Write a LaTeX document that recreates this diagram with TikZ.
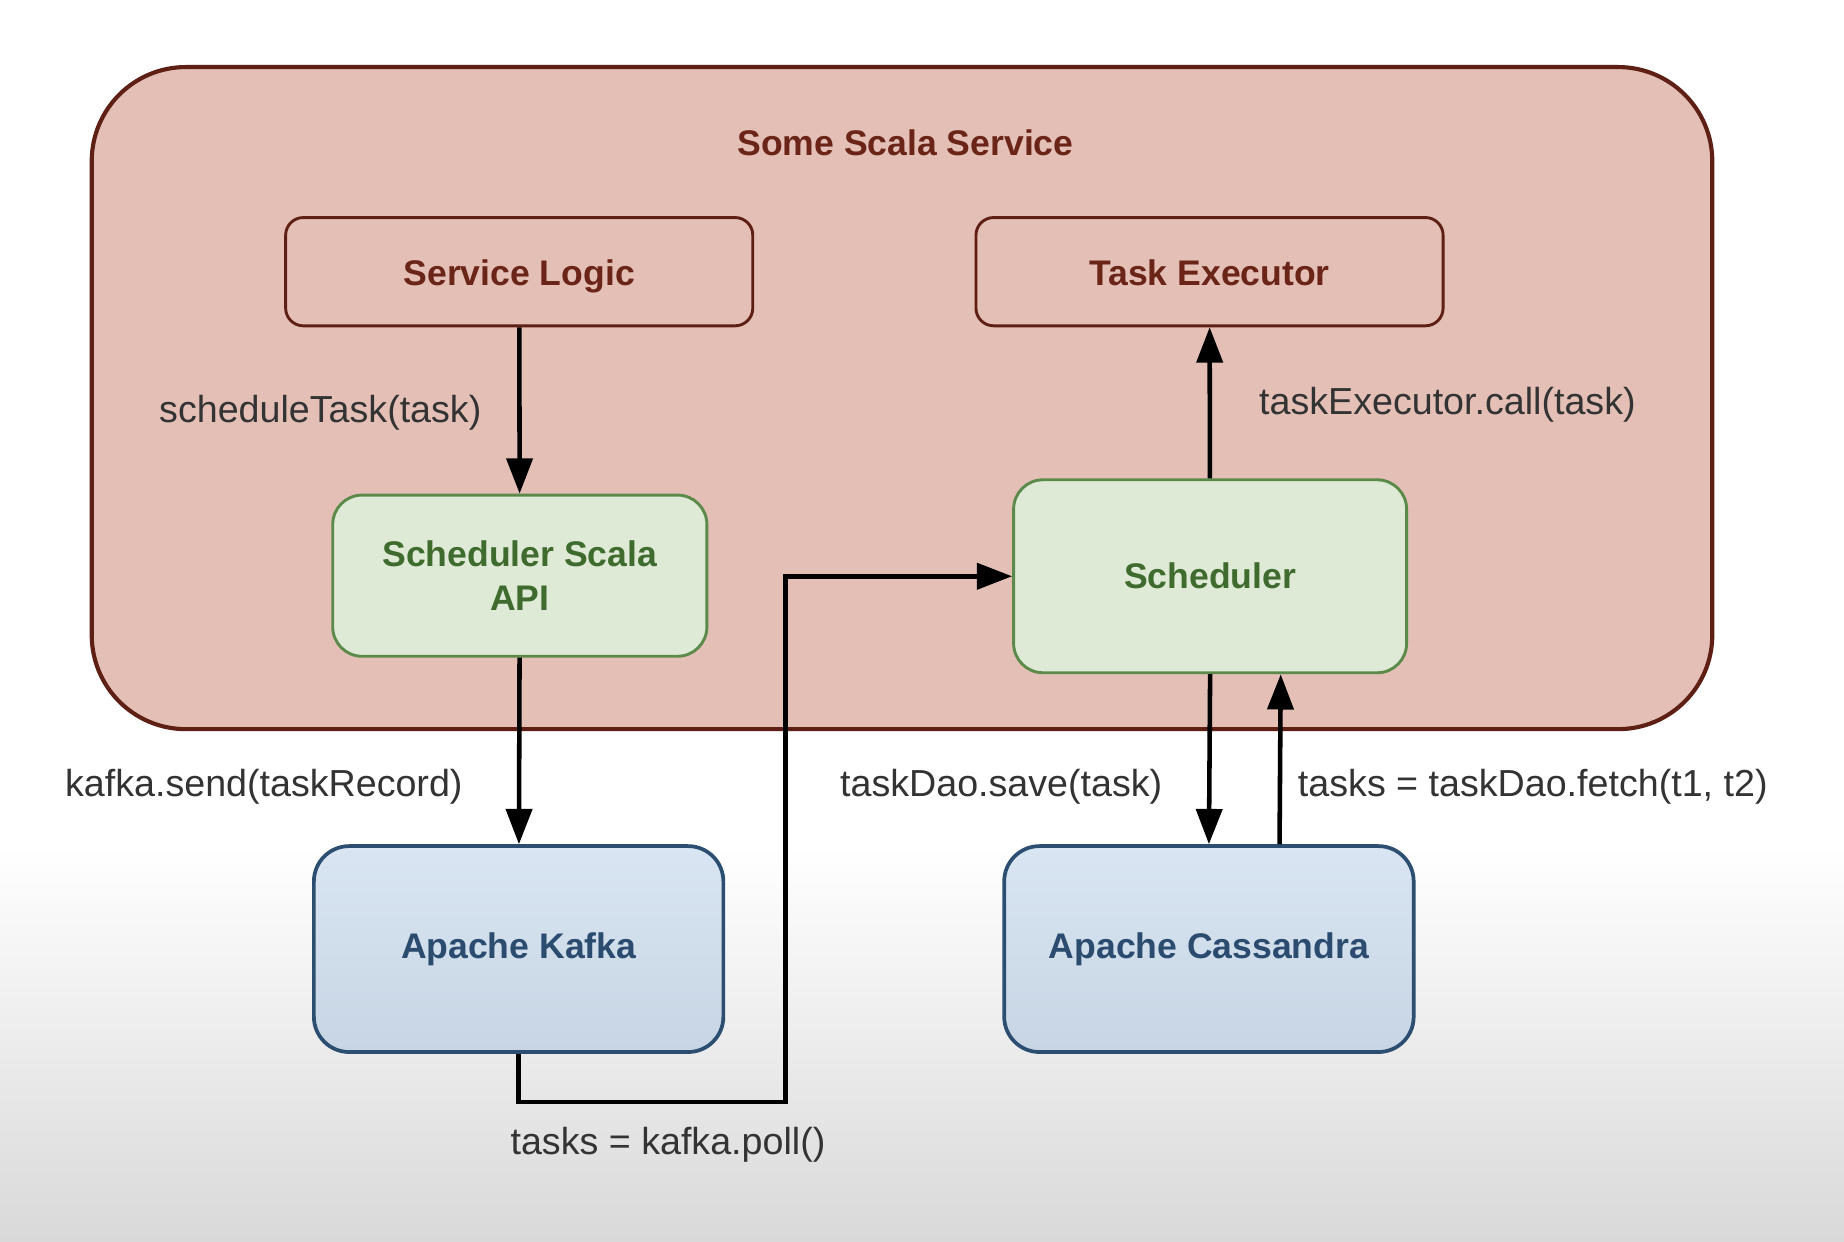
\documentclass[tikz,border=0pt]{standalone}
\usepackage{fontspec}
\setmainfont{Liberation Sans}
\usepackage{xcolor}
\usetikzlibrary{arrows.meta}
\definecolor{svcfill}{HTML}{E3BFB6}
\definecolor{svcline}{HTML}{5E1F14}
\definecolor{svctext}{HTML}{6A2418}
\definecolor{schfill}{HTML}{DEEAD5}
\definecolor{schline}{HTML}{5B8A4B}
\definecolor{schtext}{HTML}{3F6B2F}
\definecolor{dbtop}{HTML}{D9E5F2}
\definecolor{dbbot}{HTML}{C7D5E4}
\definecolor{dbline}{HTML}{2C4E70}
\definecolor{dbtext}{HTML}{2B4B6F}
\definecolor{labeltext}{HTML}{333333}

\begin{document}
\begin{tikzpicture}[x=0.01cm, y=-0.01cm,
  boxfont/.style={font=\fontsize{8.6}{10.8}\selectfont\bfseries, align=center, inner sep=0pt},
  svcbox/.style={boxfont, draw=svcline, line width=0.7pt, fill=svcfill, text=svctext,
    rounded corners=0.15cm, minimum width=3.97cm, minimum height=0.92cm,
    text height=1.75ex, text depth=0.5ex},
  schbox/.style={boxfont, draw=schline, line width=0.7pt, fill=schfill, text=schtext,
    rounded corners=0.25cm},
  dbbox/.style={boxfont, draw=dbline, line width=0.9pt, top color=dbtop, bottom color=dbbot,
    text=dbtext, rounded corners=0.3cm, minimum width=3.48cm, minimum height=1.75cm},
  call/.style={font=\fontsize{9.1}{11}\selectfont, text=labeltext, inner sep=0pt},
  flow/.style={draw=black, line width=1.1pt, -{Triangle[length=0.3cm, width=0.22cm]}}]
  % background
  \useasboundingbox (0,0) rectangle (1568,1056);
  \fill[white] (0,0) rectangle (1568,1056);
  \shade[top color=white, bottom color=black!15] (0,720) rectangle (1568,1056);
  % the service
  \draw[svcline, line width=1pt, fill=svcfill, rounded corners=0.8cm] (78,57) rectangle (1456,620);
  \node[boxfont, text=svctext] (service) at (770,121) {Some Scala Service};
  \node[svcbox] (logic) at (441.5,231) {Service Logic};
  \node[svcbox] (exec) at (1028.5,231) {Task Executor};
  \node[schbox, minimum width=3.18cm, minimum height=1.37cm] (api) at (442,489.5) {Scheduler Scala\\API};
  \node[schbox, minimum width=3.34cm, minimum height=1.64cm] (sched) at (1029,490) {Scheduler};
  % storage
  \node[dbbox] (kafka) at (441,807) {Apache Kafka};
  \node[dbbox] (cass) at (1028,807) {Apache Cassandra};
  \coordinate (bend) at (668,937);
  % calls
  \draw[flow] (logic) -- (api);
  \draw[flow] (sched) -- (exec);
  \draw[flow] (api) -- (kafka);
  \draw[flow] (kafka.south) |- (bend) |- (sched.west);
  \draw[flow] (sched.south) -- (cass.north);
  \draw[flow] ([xshift=0.6cm]cass.north) -- ([xshift=0.6cm]sched.south);
  \node[call, anchor=east] (schedule) at (410,351) {scheduleTask(task)};
  \node[call, anchor=west] (execute) at (1070,344) {taskExecutor.call(task)};
  \node[call, anchor=east] (send) at (394,669) {kafka.send(taskRecord)};
  \node[call, anchor=east] (save) at (989,669) {taskDao.save(task)};
  \node[call, anchor=west] (fetch) at (1103,669) {tasks = taskDao.fetch(t1, t2)};
  \node[call] (poll) at (568,973) {tasks = kafka.poll()};
\end{tikzpicture}
\end{document}
